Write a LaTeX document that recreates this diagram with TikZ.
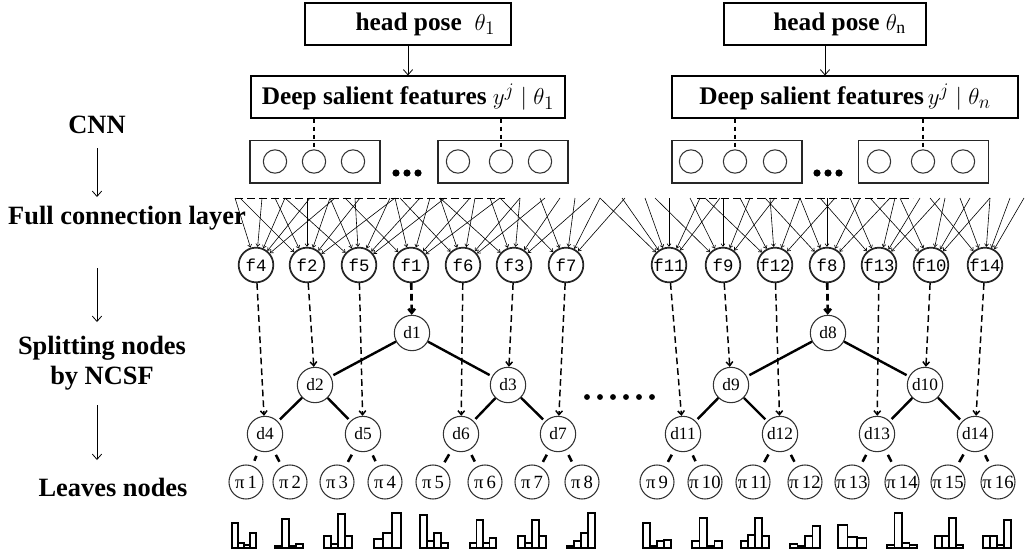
\documentclass[tikz,border=0pt]{standalone}
\usepackage{fontspec}
\setmainfont{Liberation Serif}
\newfontfamily\monof{Liberation Mono}
\usetikzlibrary{arrows.meta}
\begin{document}
\begin{tikzpicture}[x=0.75pt,y=-0.75pt,
  lab/.style={font=\fontsize{19.8}{22.5}\selectfont\bfseries, inner sep=1pt},
  box/.style={draw, line width=0.8pt, font=\fontsize{19}{21}\selectfont\bfseries, inner sep=0pt, minimum height=31.5pt},
  fnode/.style={circle, draw=black!85, line width=1.3pt, minimum size=26pt, inner sep=0pt, font=\monof\fontsize{13}{13}\selectfont},
  dnode/.style={circle, draw=black!80, line width=0.8pt, minimum size=26.5pt, inner sep=0pt, font=\fontsize{13}{13}\selectfont},
  pnode/.style={circle, draw=black!80, line width=0.8pt, minimum size=25.5pt, inner sep=0pt, font=\fontsize{14}{14}\selectfont},
  feat/.style={circle, draw=black!80, line width=0.8pt, minimum size=17.5pt, inner sep=0pt},
  featbox/.style={draw=black!85, line width=1pt, minimum width=97.5pt, minimum height=32pt, inner sep=0pt},
  flow/.style={-{Straight Barb[length=4pt,width=7pt]}, line width=0.6pt},
  fc/.style={-{Straight Barb[length=2pt,width=3pt]}, line width=0.45pt},
  fd/.style={dash pattern=on 5pt off 3pt, line width=1.1pt, -{Straight Barb[length=3pt,width=5pt]}},
  fdthick/.style={dash pattern=on 5pt off 3pt, line width=2pt, -{Straight Barb[length=3pt,width=5pt]}},
  edge/.style={line width=1.8pt, shorten >=2pt},
  leaf/.style={line width=1.9pt, shorten <=4pt, shorten >=4pt},
  bar/.style={draw, line width=1pt, fill=white},
]
\useasboundingbox (0,0) rectangle (1025,553);

% ---------- left labels ----------
\node[lab] (cnn) at (97,125) {CNN};
\node[lab] (fcl) at (127,218) {Full connection layer};
\node[lab, align=center] (spl) at (102,363) {Splitting nodes\\by NCSF};
\node[lab] (lvs) at (113,487) {Leaves nodes};
\coordinate (a1s) at (97,148); \coordinate (a1e) at (97,197);
\coordinate (a2s) at (97,268); \coordinate (a2e) at (97,322);
\coordinate (a3s) at (97,405); \coordinate (a3e) at (97,460);
\draw[flow] (a1s) -- (a1e);
\draw[flow] (a2s) -- (a2e);
\draw[flow] (a3s) -- (a3e);

% ---------- top boxes ----------
\node[box, minimum width=154.5pt] (hp1) at (408,24) {\hspace{26pt}head pose\ \ $\theta_1$};
\node[box, minimum width=235.5pt] (ds1) at (408,97) {Deep salient features $y^j\mid\theta_1$};
\draw[flow] (hp1) -- (ds1);
\node[box, minimum width=151.5pt] (hpn) at (825,24) {\hspace{22pt}head pose $\theta_{\mathrm{n}}$};
\node[box, minimum width=259.5pt] (dsn) at (845,97) {Deep salient features$\,y^j\mid\theta_n$};
\draw[flow] (hpn) -- (hpn |- dsn.north);

% feature boxes
\node[featbox] (fa) at (315,161.5) {};
\node[featbox] (fb) at (503,161.5) {};
\node[featbox] (fcx) at (737,161.5) {};
\node[featbox] (fdx) at (923.5,161.5) {};
\foreach \n/\x in {ca1/275,ca2/314,ca3/353,cb1/458,cb2/501,cb3/540,cc1/691,cc2/735,cc3/775,cd1/879,cd2/923,cd3/963}
  \node[feat] (\n) at (\x,161.5) {};
\draw[dashed, line width=1pt] (ds1.south -| ca2) -- (ca2.north);
\draw[dashed, line width=1pt] (ds1.south -| cb2) -- (cb2.north);
\draw[dashed, line width=1pt] (dsn.south -| cc2) -- (cc2.north);
\draw[dashed, line width=1pt] (dsn.south -| cd2) -- (cd2.north);
\foreach \x in {396,407,418} \fill (\x,173) circle (2.7pt);
\foreach \x in {817,828,839} \fill (\x,173) circle (2.7pt);

% ---------- f nodes ----------
\foreach \n/\x in {f4/256,f2/307,f5/359,f1/411,f6/463,f3/514,f7/566,f11/669,f9/723,f12/775,f8/827,f13/879,f10/931,f14/985}
  \node[fnode] (\n) at (\x,265) {\n};

% full connection lines
\coordinate (tl1) at (235,198); \coordinate (tl2) at (505,198);
\coordinate (tr1) at (697,198); \coordinate (tr2) at (913,198);
\draw[dash pattern=on 6pt off 3pt, line width=0.6pt] (tl1) -- (tl2);
\draw[dash pattern=on 6pt off 3pt, line width=0.6pt] (tr1) -- (tr2);
\foreach \f/\xs in {f4/{235,262,285,310,335},
                    f2/{240,275,307,330,360,395},
                    f5/{285,330,355,390,420,445},
                    f1/{345,395,430,470,500},
                    f6/{400,440,475,520,545},
                    f3/{440,490,520,560,590},
                    f7/{500,540,575,600,625},
                    f11/{600,622,645,669,700,720},
                    f9/{655,690,723,750,775},
                    f12/{705,740,770,800,835},
                    f8/{765,800,827,860,890},
                    f13/{820,850,895,920,940},
                    f10/{870,900,945,970,990},
                    f14/{930,960,990,1010,1024}} {
  \foreach \x in \xs {
    \coordinate (top-\f-\x) at (\x,198);
    \draw[fc] (top-\f-\x) -- (\f);
  }
}

% ---------- splitting nodes ----------
\foreach \n/\x/\y in {d1/412/333,d2/315/385,d3/508/385,d4/265/434,d5/363/434,d6/461/434,d7/558/434,
                      d8/828/333,d9/731/385,d10/925/385,d11/683/434,d12/780/434,d13/877/434,d14/975/434}
  \node[dnode] (\n) at (\x,\y) {\n};

% ---------- leaves ----------
\foreach \i/\x in {1/246,2/290,3/337,4/385,5/433,6/485,7/532,8/582,9/657,10/705,11/753,12/805,13/852,14/902,15/948,16/998}
  \node[pnode] (p\i) at (\x,482) {π\,\i};

% f -> d dashed arrows
\foreach \a/\b in {f4/d4,f2/d2,f5/d5,f6/d6,f3/d3,f7/d7,f11/d11,f9/d9,f12/d12,f13/d13,f10/d10,f14/d14}
  \draw[fd] (\a) -- (\b);
\draw[fdthick] (f1) -- (d1);
\draw[fdthick] (f8) -- (d8);

% tree edges
\foreach \a/\b in {d1/d2,d1/d3,d2/d4,d2/d5,d3/d6,d3/d7,d8/d9,d8/d10,d9/d11,d9/d12,d10/d13,d10/d14}
  \draw[edge] (\a) -- (\b);
\foreach \a/\b in {d4/p1,d4/p2,d5/p3,d5/p4,d6/p5,d6/p6,d7/p7,d7/p8,d11/p9,d11/p10,d12/p11,d12/p12,d13/p13,d13/p14,d14/p15,d14/p16}
  \draw[leaf] (\a) -- (\b);

% middle dots
\foreach \x in {587,600,613,626,639,652} \fill (\x,397) circle (2.2pt);

% ---------- histograms ----------
\foreach \x/\w/\hs in {232/6/{25,5,3,15}, 275/7/{2,29,2,4}, 324/7/{12,4,34,12}, 374/9/{9,15,35},
                       420/7/{33,7,15,5}, 470/6.5/{5,28,5,10}, 518/7/{12,5,28,12}, 567/7/{2,7,15,35},
                       643/7/{25,2,7,8}, 692/7.5/{7,30,2,7}, 741/7/{7,13,30,12}, 790/7.5/{4,2,12,22},
                       838/9.5/{23,11,10}, 887/7.5/{3,35,5,3}, 935/7/{12,12,30,3}, 983/7/{12,12,3,28}} {
  \foreach \h [count=\i from 0] in \hs {
    \draw[bar] (\x+\i*\w,548) rectangle ++(\w,-\h);
  }
}
\end{tikzpicture}
\end{document}
